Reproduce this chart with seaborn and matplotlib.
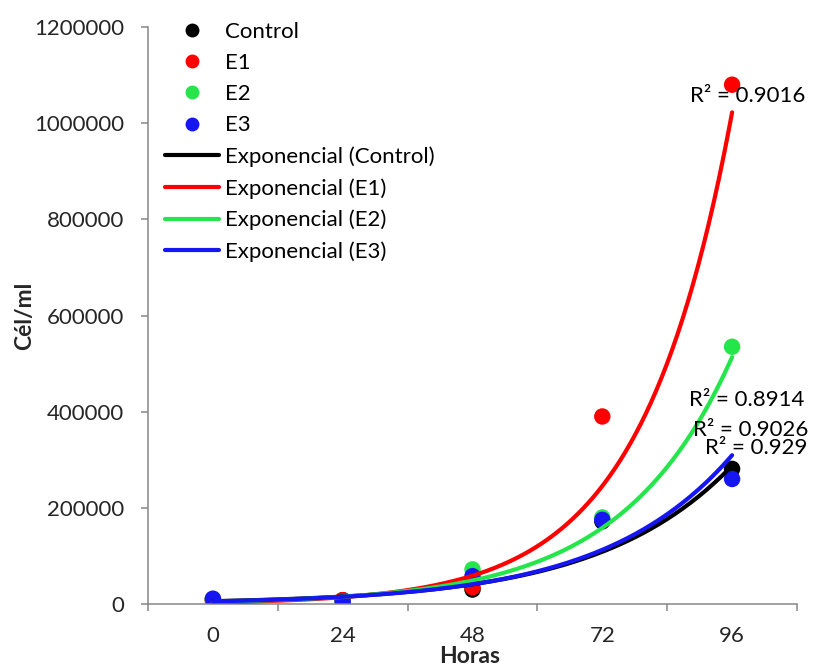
import numpy as np
import pandas as pd
import matplotlib
matplotlib.use("Agg")
import matplotlib.pyplot as plt
import seaborn as sns
from matplotlib.lines import Line2D

# Cell counts (cél/ml) per sampling time
horas = ["0", "24", "48", "72", "96"]
series = ["Control", "E1", "E2", "E3"]
control = [10000, 8000, 30000, 172000, 281000]
e1 = [6000, 8000, 35000, 390000, 1080000]
e2 = [10000, 4000, 72000, 180000, 535000]
e3 = [11000, 4000, 58000, 175000, 260000]
r2_labels = {"Control": "R² = 0.9026", "E1": "R² = 0.9016",
             "E2": "R² = 0.8914", "E3": "R² = 0.929"}
colors = {"Control": "#000000", "E1": "#FF0000", "E2": "#24E64A", "E3": "#1616F2"}

sns.set_theme(style="white")
plt.rcParams["font.family"] = ["Lato", "DejaVu Sans"]
plt.rcParams["text.color"] = "black"

pos = np.arange(1, len(horas) + 1)
df = pd.DataFrame({
    "pos": np.tile(pos, len(series)),
    "serie": np.repeat(series, len(horas)),
    "cel": np.concatenate([control, e1, e2, e3]),
})

# Exponential trend lines: linear fit of ln(y) against the category index
xs = np.linspace(1, len(horas), 200)
trend_rows = []
for name, grp in df.groupby("serie", sort=False):
    b, ln_a = np.polyfit(grp["pos"], np.log(grp["cel"]), 1)
    trend_rows.append(pd.DataFrame({"pos": xs, "serie": name,
                                    "cel": np.exp(ln_a + b * xs)}))
trend = pd.concat(trend_rows, ignore_index=True)

fig = plt.figure(figsize=(8.16, 6.68), dpi=100)
ax = fig.add_axes([148 / 816, 1 - 604 / 668, (797 - 148) / 816, (604 - 27) / 668])

sns.scatterplot(data=df, x="pos", y="cel", hue="serie", hue_order=series,
                palette=colors, s=140, edgecolor="none", linewidth=0,
                legend=False, ax=ax, zorder=2)
sns.lineplot(data=trend, x="pos", y="cel", hue="serie", hue_order=series,
             palette=colors, linewidth=3.0, legend=False, ax=ax, zorder=3)

# Axes styling
ax.set_xlim(0.5, len(horas) + 0.5)
ax.set_ylim(0, 1200000)
yt = np.arange(0, 1200001, 200000)
ax.set_yticks(yt)
ax.set_yticklabels([f"{v:d}" for v in yt], fontsize=16)
ax.set_xticks(pos)
ax.set_xticklabels(horas, fontsize=16)
ax.set_xticks(np.arange(0.5, len(horas) + 1, 1), minor=True)
ax.tick_params(axis="x", which="major", length=0, pad=16)
ax.tick_params(axis="x", which="minor", direction="out", length=5,
               width=1.1, color="#868686", bottom=True)
ax.tick_params(axis="y", which="major", direction="out", length=5,
               width=1.1, color="#868686", pad=12, left=True)
for side in ["top", "right"]:
    ax.spines[side].set_visible(False)
for side in ["left", "bottom"]:
    ax.spines[side].set_color("#868686")
    ax.spines[side].set_linewidth(1.1)

ax.set_xlabel("Horas", fontsize=16.5, fontweight="bold")
ax.xaxis.label.set_va("center")
ax.xaxis.set_label_coords(0.496, -0.091)
ax.set_ylabel("Cél/ml", fontsize=16.5, fontweight="bold")
ax.yaxis.label.set_va("center")
ax.yaxis.set_label_coords(-0.1895, 0.499)

# R² annotations next to each trend line
r2_pos = {"E1": (4.675, 1056000), "E2": (4.668, 425000),
          "Control": (4.70, 362500), "E3": (4.79, 325000)}
for name in ["E1", "E2", "Control", "E3"]:
    x, y = r2_pos[name]
    ax.text(x, y, r2_labels[name], fontsize=16, ha="left", va="center", zorder=4)

# Legend: markers first, then trend lines
handles = [Line2D([], [], marker="o", linestyle="none", color=colors[s],
                  markeredgewidth=0, markersize=10) for s in series]
handles += [Line2D([], [], color=colors[s], linewidth=3.0) for s in series]
labels = series + [f"Exponencial ({s})" for s in series]
fig.legend(handles, labels, loc="upper left",
           bbox_to_anchor=(165 / 816, 1 - 22 / 668), frameon=False,
           fontsize=16, borderpad=0, borderaxespad=0, handlelength=2.45,
           handletextpad=0.23, labelspacing=0.5)

fig.savefig("out.png", dpi=100)
